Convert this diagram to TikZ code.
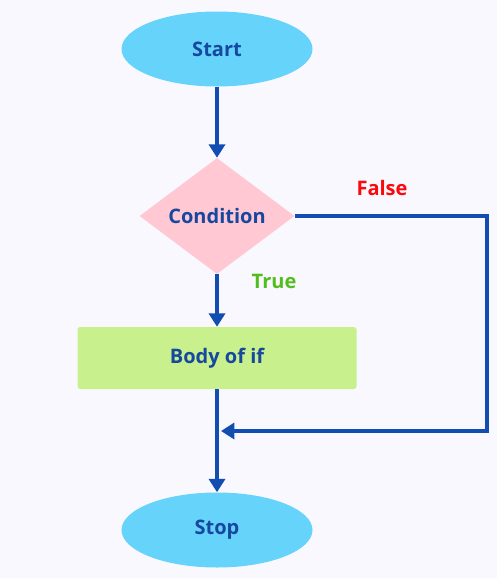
\documentclass[tikz,border=0pt]{standalone}
\usepackage{fontspec}
\setmainfont{Open Sans}
\usetikzlibrary{shapes.geometric}
\usetikzlibrary{arrows.meta}

\definecolor{pagebg}{RGB}{250,248,255}
\definecolor{flowblue}{RGB}{18,78,178}
\definecolor{textblue}{RGB}{22,72,160}
\definecolor{termcyan}{RGB}{102,211,250}
\definecolor{condpink}{RGB}{255,200,210}
\definecolor{bodygreen}{RGB}{200,240,140}
\definecolor{falsered}{RGB}{250,10,10}
\definecolor{truegreen}{RGB}{82,190,30}

\begin{document}
\begin{tikzpicture}[x=0.75pt, y=-0.75pt,
  font=\fontsize{15}{18}\selectfont\bfseries,
  terminal/.style={ellipse, fill=termcyan, text=textblue, inner sep=0pt,
    minimum width=143.25pt, minimum height=56.25pt},
  decision/.style={diamond, fill=condpink, text=textblue, inner sep=0pt,
    minimum width=116.25pt, minimum height=87pt},
  process/.style={rectangle, rounded corners=2pt, fill=bodygreen, text=textblue,
    inner sep=0pt, minimum width=209.25pt, minimum height=46.5pt},
  flow/.style={draw=flowblue, line width=3pt,
    -{Triangle[width=12pt, length=10pt]}}
]
% page
\fill[pagebg] (0,0) rectangle (497,578);

% nodes
\node[terminal] (start) at (217,49) {Start};
\node[decision] (cond) at (217,216) {Condition};
\node[process] (body) at (217,358) {Body of if};
\node[terminal] (stop) at (217,530) {Stop};

\coordinate (turn) at (487,216);
\coordinate (join) at (221,431);

% connectors
\draw[flow] (start) -- (cond);
\draw[flow] (cond) -- (body);
\draw[flow] (body) -- (stop);
\draw[flow] (cond.east) -- (turn) |- (join);

% labels
\node[text=falsered] (nolabel) at (382,188) {False};
\node[text=truegreen] (yeslabel) at (274,281) {True};
\end{tikzpicture}
\end{document}
